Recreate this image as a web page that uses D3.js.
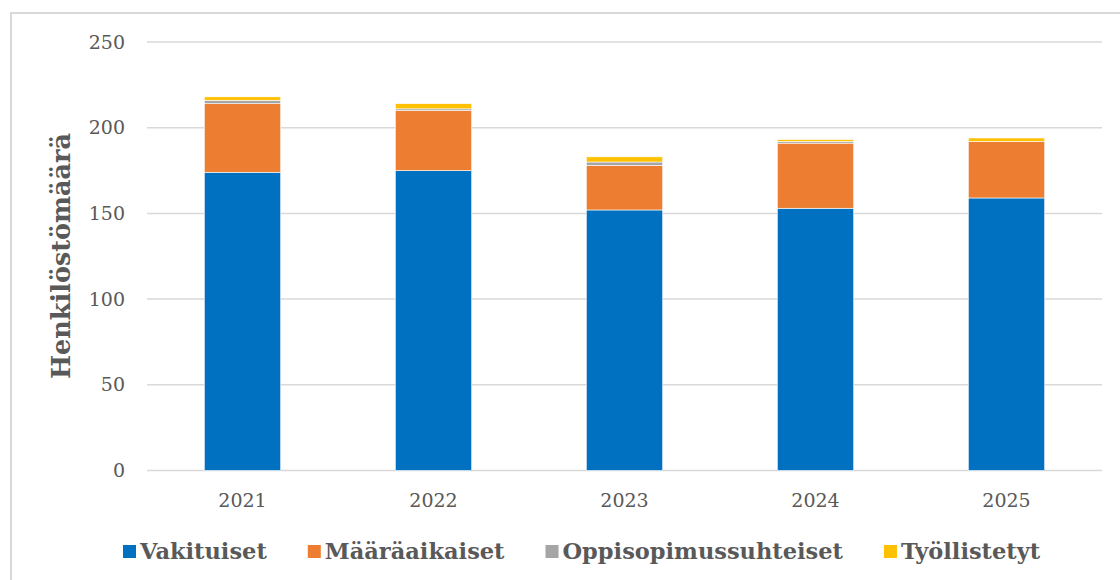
<!DOCTYPE html>
<html>
<head>
<meta charset="utf-8">
<script src="https://cdn.jsdelivr.net/npm/d3@7"></script>
<style>
  html, body { margin: 0; padding: 0; background: #fff; }
  svg { display: block; }
</style>
</head>
<body>
<svg id="chart" width="1120" height="580"></svg>
<script>
const years = ["2021", "2022", "2023", "2024", "2025"];
const vakituiset = [174, 175, 152, 153, 159];
const maaraaikaiset = [40, 35, 26, 38, 33];
const oppisopimus = [2, 1, 2, 1, 0];
const tyollistetyt = [2, 3, 3, 1, 2];
const seriesNames = ["Vakituiset", "Määräaikaiset", "Oppisopimussuhteiset", "Työllistetyt"];
const seriesColors = ["#0070C0", "#ED7D31", "#A5A5A5", "#FFC000"];
const yTicks = [0, 50, 100, 150, 200, 250];
const yTitle = "Henkilöstömäärä";

const FONT = "Georgia, 'DejaVu Serif', serif";
const svg = d3.select("#chart");

// outer chart border
svg.append("rect")
  .attr("x", 11).attr("y", 13).attr("width", 1200).attr("height", 700)
  .attr("fill", "none").attr("stroke", "#d9d9d9").attr("stroke-width", 2);

const x = d3.scaleBand().domain(years).range([147, 1102]).paddingInner(0.6).paddingOuter(0.3);
const y = d3.scaleLinear().domain([0, 250]).range([470.5, 42]);

// gridlines
svg.append("g").selectAll("line").data(yTicks).join("line")
  .attr("x1", 147).attr("x2", 1102)
  .attr("y1", d => y(d)).attr("y2", d => y(d))
  .attr("stroke", "#d9d9d9").attr("stroke-width", 1.5);

// stacked data
const table = years.map((yr, i) => ({
  year: yr,
  Vakituiset: vakituiset[i],
  "Määräaikaiset": maaraaikaiset[i],
  Oppisopimussuhteiset: oppisopimus[i],
  "Työllistetyt": tyollistetyt[i]
}));
const stack = d3.stack().keys(seriesNames)(table);

svg.append("g").selectAll("g").data(stack).join("g")
  .attr("fill", (d, i) => seriesColors[i])
  .selectAll("rect").data(d => d).join("rect")
  .attr("x", d => x(d.data.year))
  .attr("width", x.bandwidth())
  .attr("y", d => y(d[1]))
  .attr("height", d => Math.max(0, y(d[0]) - y(d[1])))
  .attr("stroke", "#ffffff").attr("stroke-width", 0.6);

// y axis labels
const yAxis = d3.axisLeft(y).tickValues(yTicks).tickSize(0).tickPadding(0);
const yg = svg.append("g").attr("transform", "translate(125,0)").call(yAxis);
yg.select(".domain").remove();
yg.selectAll("text").attr("font-family", FONT).attr("font-size", 19).attr("fill", "#595959");

// x axis labels
const xAxis = d3.axisBottom(x).tickSize(0).tickPadding(0);
const xg = svg.append("g").attr("transform", "translate(0,493)").call(xAxis);
xg.select(".domain").remove();
xg.selectAll("text").attr("font-family", FONT).attr("font-size", 19).attr("fill", "#595959");

// y title
svg.append("text")
  .attr("transform", "translate(70,256) rotate(-90)")
  .attr("text-anchor", "middle")
  .attr("font-family", FONT).attr("font-weight", "bold").attr("font-size", 25.5)
  .attr("fill", "#595959")
  .text(yTitle);

// legend
const legend = svg.append("g");
let lx = 123;
seriesNames.forEach((name, i) => {
  legend.append("rect").attr("x", lx).attr("y", 545).attr("width", 13).attr("height", 13)
    .attr("fill", seriesColors[i]);
  const t = legend.append("text").attr("x", lx + 17).attr("y", 559)
    .attr("font-family", FONT).attr("font-weight", "bold").attr("font-size", 22.5)
    .attr("fill", "#595959").text(name);
  lx += 17 + t.node().getComputedTextLength() + 41;
});
</script>
</body>
</html>
